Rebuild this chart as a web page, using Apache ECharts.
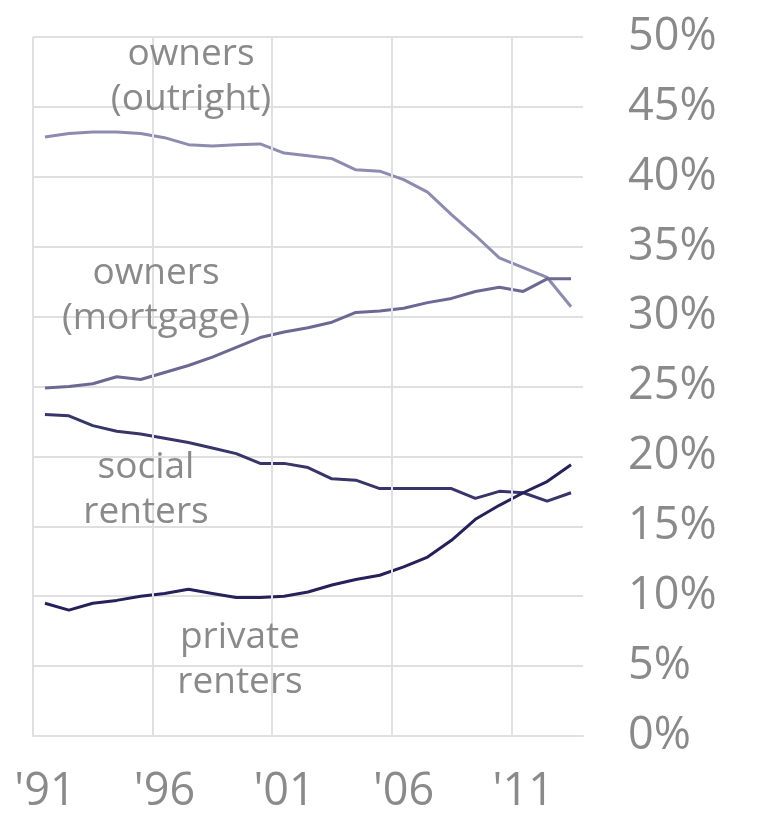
<!DOCTYPE html>
<html>
<head>
<meta charset="utf-8">
<script src="https://cdn.jsdelivr.net/npm/echarts@6/dist/echarts.min.js"></script>
<style>
html,body{margin:0;padding:0;background:#fff;}
#c{width:760px;height:818px;}
</style>
</head>
<body>
<div id="c"></div>
<script>
const years = ['1991','1992','1993','1994','1995','1996','1997','1998','1999','2000','2001','2002','2003','2004','2005','2006','2007','2008','2009','2010','2011','2012','2013'];
const ownersOutright = [42.85, 43.1, 43.2, 43.2, 43.1, 42.8, 42.3, 42.2, 42.3, 42.35, 41.7, 41.5, 41.3, 40.5, 40.4, 39.8, 38.9, 37.3, 35.8, 34.2, 33.5, 32.8, 30.7];
const ownersMortgage = [24.9, 25.0, 25.2, 25.7, 25.5, 26.0, 26.5, 27.1, 27.8, 28.5, 28.9, 29.2, 29.6, 30.3, 30.4, 30.6, 31.0, 31.3, 31.8, 32.1, 31.8, 32.7, 32.7];
const socialRenters = [23.0, 22.9, 22.2, 21.8, 21.6, 21.3, 21.0, 20.6, 20.2, 19.5, 19.5, 19.2, 18.4, 18.3, 17.7, 17.7, 17.7, 17.7, 17.0, 17.5, 17.4, 16.8, 17.4];
const privateRenters = [9.5, 9.0, 9.5, 9.7, 10.0, 10.2, 10.5, 10.2, 9.9, 9.9, 10.0, 10.3, 10.8, 11.2, 11.5, 12.1, 12.8, 14.0, 15.5, 16.5, 17.4, 18.2, 19.4];
const yTicks = [0, 5, 10, 15, 20, 25, 30, 35, 40, 45, 50];
const xGridYears = ['1991', '1996', '2001', '2006', '2011'];
const seriesNames = ['owners (outright)', 'owners (mortgage)', 'social renters', 'private renters'];

const FONT = '"Open Sans", "Noto Sans", sans-serif';
const TXT = '#8a8a8a';
const GRID = '#e0e0e0';

const chart = echarts.init(document.getElementById('c'), null, {renderer: 'canvas'});

function lineSeries(name, data, color) {
  return {
    name: name, type: 'line', data: data, symbol: 'none', smooth: false,
    lineStyle: {color: color, width: 3}, itemStyle: {color: color}, z: 3
  };
}

function label(lines, cx, cy) {
  return {
    type: 'text', x: cx, y: cy, z: 10,
    style: {
      text: lines.join('\n'), fill: TXT, font: '37px ' + FONT,
      align: 'center', verticalAlign: 'middle', lineHeight: 45
    }
  };
}

chart.setOption({
  animation: false,
  backgroundColor: '#ffffff',
  grid: {left: 33, right: 177, top: 37, bottom: 82, containLabel: false},
  xAxis: [{
    type: 'category', data: years, boundaryGap: true,
    axisLine: {show: true, lineStyle: {color: GRID, width: 2}},
    axisTick: {show: false},
    axisLabel: {
      interval: 4, margin: 34, color: TXT, fontFamily: FONT, fontSize: 45,
      formatter: v => "'" + v.slice(2)
    },
    splitLine: {show: false}
  }, {
    // band-boundary scale for the vertical gridlines (year starts)
    type: 'value', min: 0, max: years.length, show: false,
    splitLine: {show: false}
  }],
  yAxis: {
    type: 'value', position: 'right', min: yTicks[0], max: yTicks[yTicks.length - 1], interval: 5,
    axisLine: {show: false}, axisTick: {show: false},
    axisLabel: {
      margin: 45, color: TXT, fontFamily: FONT, fontSize: 45, align: 'left',
      formatter: v => v + '%'
    },
    splitLine: {show: true, lineStyle: {color: GRID, width: 2}}
  },
  series: [
    {
      type: 'line', xAxisIndex: 1, data: [], silent: true, z: 1,
      markLine: {
        silent: true, symbol: ['none', 'none'], animation: false,
        label: {show: false},
        lineStyle: {color: GRID, width: 2, type: 'solid'},
        emphasis: {disabled: true},
        data: xGridYears.map(y => ({xAxis: years.indexOf(y)}))
      }
    },
    lineSeries(seriesNames[0], ownersOutright, '#8e8bb0'),
    lineSeries(seriesNames[1], ownersMortgage, '#6c6893'),
    lineSeries(seriesNames[2], socialRenters, '#38356a'),
    lineSeries(seriesNames[3], privateRenters, '#25215a')
  ],
  graphic: [
    label(['owners', '(outright)'], 191, 77),
    label(['owners', '(mortgage)'], 156, 296),
    label(['social', 'renters'], 146, 490),
    label(['private', 'renters'], 240, 660)
  ]
});
</script>
</body>
</html>
